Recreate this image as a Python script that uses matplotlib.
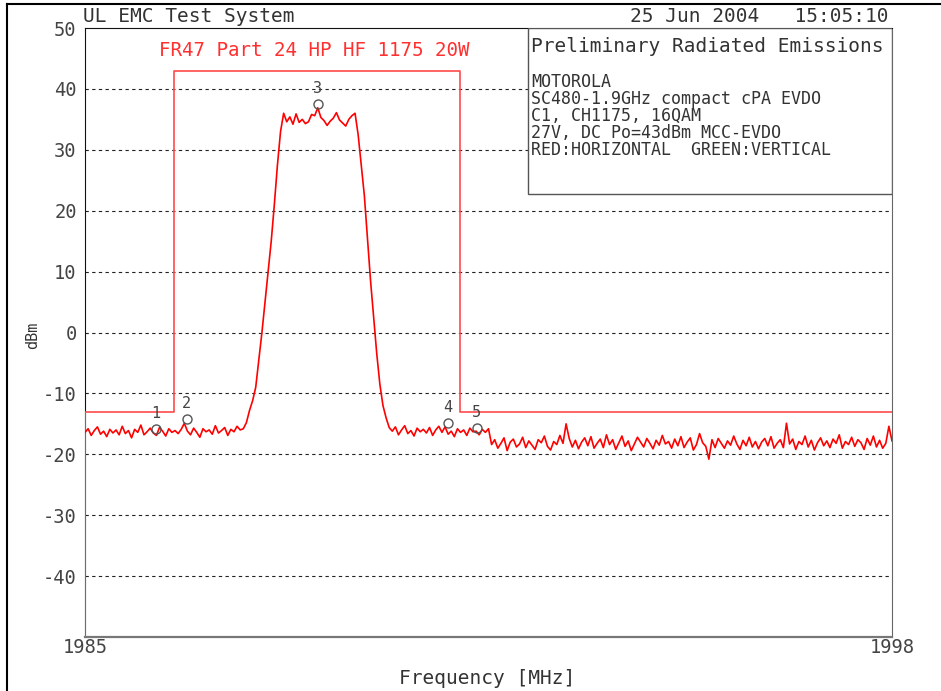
import numpy as np
import matplotlib
matplotlib.use('Agg')
import matplotlib.pyplot as plt
from matplotlib.lines import Line2D
from matplotlib.patches import Rectangle
from matplotlib.transforms import offset_copy

plt.rcParams['font.family'] = ['DejaVu Sans Mono']

# sweep: 1985 - 1998 MHz, 0.05 MHz per point
f_start, f_stop, f_step = 1985.0, 1998.0, 0.05
trace_dbm = [
    -16.4, -15.8, -16.9, -16.1, -15.5, -16.7, -16.2, -17.1, -15.9, -16.5,
    -16.0, -16.8, -15.4, -16.6, -16.1, -17.3, -15.9, -16.4, -15.2, -16.8,
    -16.3, -15.7, -16.5, -16.9, -15.6, -16.2, -17.0, -15.8, -16.4, -16.1,
    -16.6, -15.9, -14.9, -16.2, -16.8, -15.7, -16.4, -17.2, -15.8, -16.3,
    -16.0, -16.7, -15.3, -16.5, -16.1, -15.6, -16.9, -15.9, -16.3, -15.4,
    -16.0, -15.8, -14.8, -12.8, -11.2, -9.0, -4.5, 0.0, 5.0, 10.0,
    15.0, 21.0, 27.5, 33.0, 36.0, 34.6, 35.4, 34.2, 35.9, 34.5,
    35.0, 34.3, 34.6, 35.8, 35.6, 36.9, 35.3, 34.8, 34.0, 34.7,
    35.2, 36.1, 34.9, 34.4, 33.9, 35.0, 35.6, 36.0, 32.5, 27.5,
    22.5, 15.5, 8.5, 2.5, -3.5, -8.5, -12.0, -14.0, -15.6, -16.2,
    -15.5, -16.8, -16.0, -15.3, -16.6, -16.1, -17.0, -15.7, -16.3, -15.9,
    -16.5, -15.6, -16.9, -16.0, -15.4, -16.4, -15.5, -16.7, -16.2, -17.1,
    -15.8, -16.4, -16.0, -16.9, -15.7, -16.3, -16.2, -16.8, -15.9, -16.4,
    -15.8, -18.4, -17.6, -19.0, -18.2, -17.3, -19.4, -18.0, -17.5, -18.8,
    -18.3, -17.2, -18.9, -17.8, -18.5, -19.2, -17.6, -18.1, -17.0, -18.7,
    -19.3, -17.9, -18.4, -16.9, -18.2, -15.0, -17.4, -18.8, -17.7, -19.1,
    -18.0, -17.3, -18.6, -17.1, -19.0, -18.2, -17.5, -18.9, -16.8, -18.4,
    -17.6, -19.2, -18.1, -17.0, -18.7, -17.8, -19.4, -18.3, -17.2, -18.0,
    -18.8, -17.4, -18.2, -19.1, -17.7, -18.5, -16.9, -18.3, -17.9, -19.0,
    -17.5, -18.6, -17.1, -18.9, -18.0, -17.3, -19.3, -18.4, -16.6, -18.1,
    -18.7, -20.8, -17.6, -18.9, -17.4, -18.2, -19.0, -17.8, -18.5, -17.0,
    -18.3, -19.2, -17.7, -18.6, -17.2, -18.8, -17.9, -19.1, -18.0, -17.4,
    -18.6, -17.1, -19.0, -18.2, -17.6, -18.9, -14.9, -18.3, -17.5, -19.2,
    -17.9, -18.4, -17.0, -18.8, -17.7, -19.3, -18.1, -17.3, -18.6, -17.8,
    -18.9, -17.5, -18.2, -16.8, -19.0, -17.9, -18.4, -17.2, -18.7, -17.6,
    -18.1, -19.2, -17.4, -18.5, -17.0, -18.8, -17.7, -19.0, -18.2, -15.4,
    -17.8,
]

# FCC part 24 emission mask
mask_freq = [1985.0, 1985.0, 1986.44, 1986.44, 1991.04, 1991.04, 1998.0]
mask_dbm = [-50, -13, -13, 43, 43, -13, -13]

# markers
mk_num = ['1', '2', '3', '4', '5']
mk_freq = [1986.14, 1986.64, 1988.75, 1990.85, 1991.31]
mk_dbm = [-16.5, -14.9, 36.9, -15.5, -16.3]

y_ticks = [50, 40, 30, 20, 10, 0, -10, -20, -30, -40]
x_ticks = [1985, 1998]

info_lines = ['MOTOROLA',
              'SC480-1.9GHz compact cPA EVDO',
              'C1, CH1175, 16QAM',
              '27V, DC Po=43dBm MCC-EVDO',
              'RED:HORIZONTAL  GREEN:VERTICAL']

W, H = 941, 691
fig = plt.figure(figsize=(W / 100, H / 100), dpi=100)
ax = fig.add_axes([85 / W, 1 - 637 / H, 807 / W, 609 / H])

freq = f_start + f_step * np.arange(len(trace_dbm))
ax.plot(mask_freq, mask_dbm, color='#ff4a4a', lw=1.2, zorder=3)
ax.plot(freq, trace_dbm, color='#ff0000', lw=1.2, zorder=4)

# marker symbol sits just above the trace point, number above that
mk_trans = offset_copy(ax.transData, fig=fig, x=0, y=4, units='dots')
ax.plot(mk_freq, mk_dbm, ls='none', marker='o', ms=6.5, mfc='none',
        mec='#555555', mew=1.0, transform=mk_trans, zorder=5)
for n, fx, lv in zip(mk_num, mk_freq, mk_dbm):
    ax.annotate(n, (fx, lv), xytext=(0, 14), textcoords='offset points',
                ha='center', va='center', fontsize=11, color='#444444', zorder=5)

ax.set_xlim(f_start, f_stop)
ax.set_ylim(-50, 50)
ax.set_yticks(y_ticks)
ax.set_yticklabels([str(v) for v in y_ticks])
ax.set_xticks(x_ticks)
ax.set_xticklabels([str(v) for v in x_ticks])
ax.tick_params(length=0, labelsize=13.5, labelcolor='#444444')
ax.tick_params(axis='y', pad=6)
ax.tick_params(axis='x', pad=1)
for v in y_ticks[1:]:
    ax.axhline(v, color='#222222', lw=0.8, ls=(0, (3, 3)), zorder=1)

ax.spines['top'].set_color('#111111')
ax.spines['left'].set_color('#111111')
ax.spines['bottom'].set_color('#777777')
ax.spines['bottom'].set_linewidth(1.6)
ax.spines['right'].set_color('#666666')

fig.text(487 / W, 1 - 679 / H, 'Frequency [MHz]', ha='center', va='center',
         fontsize=14, color='#333333')
fig.text(33 / W, 1 - 335 / H, 'dBm', ha='center', va='center', rotation=90,
         fontsize=11, color='#333333')

ax.text((314 - 85) / 807, 1 - (50 - 28) / 609, 'FR47 Part 24 HP HF 1175 20W',
        transform=ax.transAxes, ha='center', va='center',
        fontsize=13.8, color='#ff3030')

# info box, upper right
box_x0 = (528 - 85) / 807
box_y0 = (637 - 194) / 609
ax.add_patch(Rectangle((box_x0, box_y0), 1 - box_x0, 1 - box_y0,
                       transform=ax.transAxes, fill=True, fc='white',
                       ec='#555555', lw=1.0, zorder=6))
fig.text(531 / W, 1 - 47 / H, 'Preliminary Radiated Emissions',
         ha='left', va='center', fontsize=14, color='#333333', zorder=7)
fig.text(531 / W, 1 - 73 / H, '\n'.join(info_lines), ha='left', va='top',
         fontsize=12, linespacing=0.93, color='#333333', zorder=7)

fig.text(83 / W, 1 - 16 / H, 'UL EMC Test System', ha='left', va='center',
         fontsize=14, color='#333333')
fig.text(888 / W, 1 - 16 / H, '25 Jun 2004   15:05:10', ha='right',
         va='center', fontsize=14, color='#333333')

# page frame lines
fig.add_artist(Line2D([7 / W, 1.0], [1 - 4 / H, 1 - 4 / H], color='black', lw=1.5))
fig.add_artist(Line2D([7 / W, 7 / W], [0.0, 1 - 4 / H], color='black', lw=1.5))

fig.savefig('out.png', dpi=100)
